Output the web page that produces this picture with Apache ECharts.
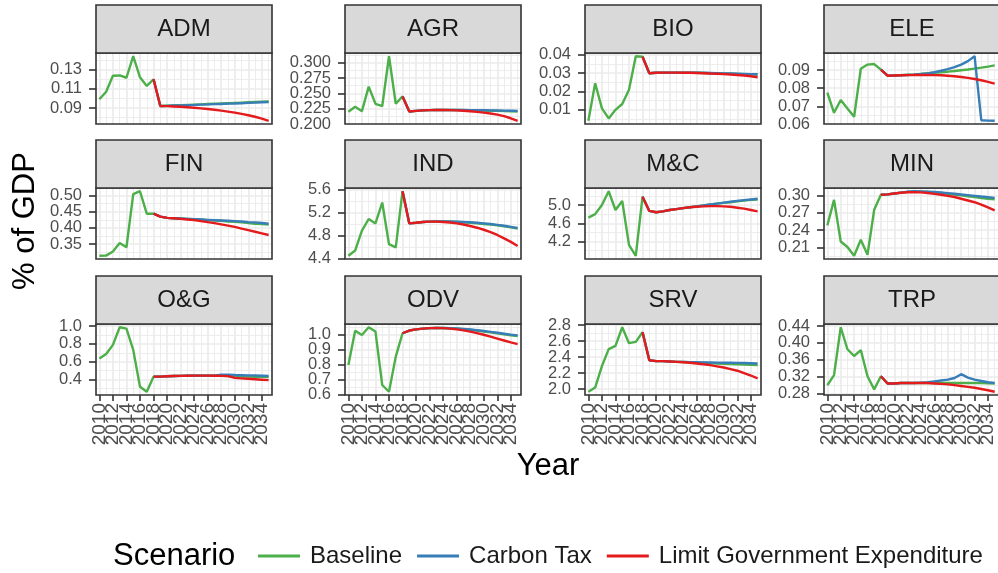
<!DOCTYPE html>
<html><head><meta charset="utf-8">
<script src="https://cdn.jsdelivr.net/npm/echarts@6/dist/echarts.min.js"></script>
<style>html,body{margin:0;padding:0;background:#fff}#c{width:998px;height:573px}</style>
</head><body><div id="c"></div>
<script>
// ---------- DATA ----------
const years = [2010,2011,2012,2013,2014,2015,2016,2017,2018,2019,2020,2021,2022,2023,2024,2025,2026,2027,2028,2029,2030,2031,2032,2033,2034,2035];
const policyYears = [2018,2019,2020,2021,2022,2023,2024,2025,2026,2027,2028,2029,2030,2031,2032,2033,2034,2035];
const sectors = ['ADM','AGR','BIO','ELE','FIN','IND','M&C','MIN','O&G','ODV','SRV','TRP'];
const scenarios = ['Baseline','Carbon Tax','Limit Government Expenditure'];

const baseline_ADM = [0.0991,0.1070,0.1237,0.1240,0.1216,0.1441,0.1220,0.1130,0.1200,0.0920,0.0923,0.0926,0.0929,0.0932,0.0935,0.0938,0.0941,0.0944,0.0947,0.0950,0.0953,0.0956,0.0959,0.0962,0.0965,0.0968];
const ctax_ADM     = [0.1200,0.0920,0.0922,0.0925,0.0927,0.0930,0.0932,0.0935,0.0937,0.0940,0.0942,0.0945,0.0947,0.0950,0.0953,0.0956,0.0959,0.0962];
const limit_ADM    = [0.1200,0.0921,0.0919,0.0916,0.0912,0.0907,0.0902,0.0896,0.0889,0.0881,0.0872,0.0862,0.0851,0.0838,0.0824,0.0808,0.0788,0.0766];

const baseline_AGR = [0.2201,0.2280,0.2210,0.2610,0.2330,0.2290,0.3105,0.2330,0.2450,0.2205,0.2215,0.2222,0.2226,0.2228,0.2229,0.2229,0.2228,0.2226,0.2224,0.2222,0.2220,0.2217,0.2214,0.2211,0.2208,0.2205];
const ctax_AGR     = [0.2450,0.2205,0.2215,0.2222,0.2226,0.2228,0.2229,0.2229,0.2229,0.2228,0.2227,0.2226,0.2225,0.2223,0.2221,0.2219,0.2217,0.2215];
const limit_AGR    = [0.2450,0.2205,0.2215,0.2222,0.2226,0.2228,0.2228,0.2226,0.2222,0.2216,0.2208,0.2198,0.2186,0.2171,0.2153,0.2128,0.2094,0.2053];

const baseline_BIO = [0.0039,0.0245,0.0107,0.0052,0.0099,0.0131,0.0209,0.0393,0.0390,0.0300,0.0302,0.0303,0.0303,0.0303,0.0303,0.0302,0.0302,0.0301,0.0300,0.0299,0.0298,0.0297,0.0296,0.0295,0.0294,0.0293];
const ctax_BIO     = [0.0390,0.0300,0.0302,0.0303,0.0303,0.0303,0.0303,0.0303,0.0302,0.0302,0.0301,0.0300,0.0299,0.0298,0.0297,0.0296,0.0295,0.0294];
const limit_BIO    = [0.0390,0.0300,0.0302,0.0303,0.0303,0.0303,0.0302,0.0302,0.0301,0.0300,0.0298,0.0297,0.0295,0.0293,0.0290,0.0287,0.0283,0.0278];

const baseline_ELE = [0.0776,0.0665,0.0735,0.0689,0.0643,0.0907,0.0930,0.0933,0.0902,0.0869,0.0870,0.0872,0.0874,0.0876,0.0879,0.0882,0.0885,0.0888,0.0891,0.0895,0.0899,0.0903,0.0908,0.0913,0.0919,0.0926];
const ctax_ELE     = [0.0902,0.0869,0.0870,0.0871,0.0873,0.0875,0.0878,0.0882,0.0888,0.0896,0.0905,0.0916,0.0930,0.0949,0.0976,0.0624,0.0622,0.0621];
const limit_ELE    = [0.0902,0.0869,0.0870,0.0871,0.0872,0.0873,0.0873,0.0873,0.0872,0.0871,0.0869,0.0866,0.0862,0.0857,0.0851,0.0844,0.0835,0.0825];

const baseline_FIN = [0.3135,0.3140,0.3270,0.3530,0.3400,0.5050,0.5138,0.4440,0.4440,0.4350,0.4310,0.4300,0.4290,0.4280,0.4270,0.4260,0.4240,0.4230,0.4220,0.4200,0.4190,0.4170,0.4150,0.4130,0.4120,0.4100];
const ctax_FIN     = [0.4440,0.4350,0.4310,0.4300,0.4290,0.4280,0.4270,0.4260,0.4250,0.4240,0.4230,0.4220,0.4210,0.4200,0.4180,0.4170,0.4150,0.4130];
const limit_FIN    = [0.4440,0.4350,0.4310,0.4300,0.4280,0.4260,0.4240,0.4210,0.4180,0.4150,0.4110,0.4070,0.4030,0.3980,0.3930,0.3880,0.3830,0.3780];

const baseline_IND = [4.450,4.540,4.886,5.086,5.010,5.370,4.650,4.594,5.566,5.010,5.020,5.035,5.040,5.042,5.042,5.040,5.035,5.030,5.020,5.010,5.000,4.990,4.975,4.960,4.940,4.920];
const ctax_IND     = [5.566,5.010,5.020,5.035,5.040,5.045,5.045,5.045,5.040,5.035,5.030,5.020,5.010,5.000,4.985,4.970,4.950,4.930];
const limit_IND    = [5.566,5.010,5.020,5.035,5.040,5.040,5.035,5.025,5.010,4.990,4.965,4.935,4.900,4.860,4.810,4.750,4.690,4.620];

const baseline_MC  = [4.724,4.800,5.000,5.300,4.890,5.087,4.127,3.890,5.180,4.870,4.840,4.860,4.890,4.910,4.930,4.950,4.970,4.990,5.010,5.030,5.045,5.060,5.080,5.095,5.110,5.120];
const ctax_MC      = [5.180,4.870,4.840,4.860,4.890,4.910,4.930,4.950,4.970,4.990,5.010,5.030,5.050,5.070,5.090,5.105,5.120,5.135];
const limit_MC     = [5.180,4.870,4.840,4.860,4.890,4.910,4.930,4.950,4.960,4.970,4.975,4.975,4.970,4.960,4.940,4.920,4.890,4.860];

const baseline_MIN = [0.2480,0.2920,0.2200,0.2106,0.1954,0.2230,0.1970,0.2750,0.3010,0.3015,0.3030,0.3045,0.3058,0.3065,0.3063,0.3057,0.3048,0.3037,0.3025,0.3012,0.2998,0.2983,0.2968,0.2953,0.2940,0.2930];
const ctax_MIN     = [0.3010,0.3015,0.3030,0.3045,0.3060,0.3070,0.3068,0.3063,0.3056,0.3047,0.3037,0.3026,0.3014,0.3002,0.2990,0.2978,0.2967,0.2956];
const limit_MIN    = [0.3010,0.3015,0.3030,0.3043,0.3052,0.3055,0.3050,0.3040,0.3025,0.3010,0.2990,0.2970,0.2940,0.2910,0.2880,0.2840,0.2790,0.2740];

const baseline_OG  = [0.637,0.686,0.789,0.986,0.970,0.733,0.322,0.265,0.434,0.434,0.438,0.441,0.443,0.444,0.445,0.445,0.445,0.444,0.443,0.441,0.439,0.437,0.435,0.433,0.431,0.430];
const ctax_OG      = [0.434,0.434,0.438,0.441,0.443,0.444,0.445,0.445,0.445,0.444,0.455,0.455,0.452,0.450,0.448,0.446,0.444,0.442];
const limit_OG     = [0.434,0.434,0.438,0.441,0.443,0.444,0.445,0.445,0.445,0.444,0.443,0.440,0.420,0.415,0.410,0.405,0.400,0.395];

const baseline_ODV = [0.797,1.024,0.996,1.047,1.018,0.664,0.619,0.852,1.007,1.025,1.033,1.038,1.041,1.042,1.042,1.040,1.038,1.034,1.030,1.025,1.019,1.013,1.007,1.000,0.994,0.988];
const ctax_ODV     = [1.007,1.025,1.033,1.038,1.041,1.042,1.042,1.041,1.039,1.036,1.032,1.027,1.022,1.016,1.010,1.004,0.998,0.993];
const limit_ODV    = [1.007,1.025,1.033,1.038,1.041,1.042,1.041,1.038,1.033,1.026,1.018,1.008,0.997,0.985,0.972,0.959,0.946,0.935];

const baseline_SRV = [1.967,2.020,2.287,2.500,2.540,2.773,2.574,2.590,2.710,2.360,2.350,2.350,2.345,2.340,2.338,2.335,2.332,2.330,2.325,2.320,2.317,2.313,2.310,2.307,2.303,2.300];
const ctax_SRV     = [2.710,2.360,2.350,2.350,2.345,2.340,2.340,2.337,2.335,2.333,2.332,2.331,2.330,2.330,2.328,2.326,2.323,2.320];
const limit_SRV    = [2.710,2.360,2.350,2.350,2.345,2.340,2.335,2.330,2.320,2.310,2.300,2.285,2.270,2.250,2.230,2.200,2.170,2.135];

const baseline_TRP = [0.2999,0.3240,0.4371,0.3850,0.3690,0.3830,0.3210,0.2900,0.3210,0.3040,0.3040,0.3050,0.3050,0.3050,0.3050,0.3050,0.3050,0.3050,0.3050,0.3050,0.3050,0.3050,0.3050,0.3050,0.3045,0.3040];
const ctax_TRP     = [0.3210,0.3040,0.3040,0.3050,0.3050,0.3050,0.3060,0.3070,0.3090,0.3110,0.3130,0.3170,0.3260,0.3180,0.3130,0.3100,0.3070,0.3050];
const limit_TRP    = [0.3210,0.3040,0.3040,0.3050,0.3050,0.3050,0.3050,0.3050,0.3040,0.3030,0.3020,0.3000,0.2980,0.2960,0.2940,0.2910,0.2880,0.2844];

// axis tick labels (major) and minor grid breaks
const ticks_ADM = [0.09,0.11,0.13],  minor_ADM = [0.08,0.10,0.12,0.14];
const ticks_AGR = [0.200,0.225,0.250,0.275,0.300], minor_AGR = [0.1875,0.2125,0.2375,0.2625,0.2875,0.3125];
const ticks_BIO = [0.01,0.02,0.03,0.04], minor_BIO = [0.005,0.015,0.025,0.035,0.045];
const ticks_ELE = [0.06,0.07,0.08,0.09], minor_ELE = [0.055,0.065,0.075,0.085,0.095];
const ticks_FIN = [0.35,0.40,0.45,0.50], minor_FIN = [0.325,0.375,0.425,0.475,0.525];
const ticks_IND = [4.4,4.8,5.2,5.6], minor_IND = [4.2,4.6,5.0,5.4,5.8];
const ticks_MC  = [4.2,4.6,5.0], minor_MC = [3.8,4.0,4.4,4.8,5.2];
const ticks_MIN = [0.21,0.24,0.27,0.30], minor_MIN = [0.195,0.225,0.255,0.285,0.315];
const ticks_OG  = [0.4,0.6,0.8,1.0], minor_OG = [0.3,0.5,0.7,0.9];
const ticks_ODV = [0.6,0.7,0.8,0.9,1.0], minor_ODV = [0.55,0.65,0.75,0.85,0.95,1.05];
const ticks_SRV = [2.0,2.2,2.4,2.6,2.8], minor_SRV = [1.9,2.1,2.3,2.5,2.7];
const ticks_TRP = [0.28,0.32,0.36,0.40,0.44], minor_TRP = [0.26,0.30,0.34,0.38,0.42];
const tickDecimals = [2,3,2,2,2,1,1,2,1,1,1,2];
const xTicks = [2010,2012,2014,2016,2018,2020,2022,2024,2026,2028,2030,2032,2034];
const xMinor = [2011,2013,2015,2017,2019,2021,2023,2025,2027,2029,2031,2033,2035];

// ---------- BUILD ----------
const baselines = [baseline_ADM,baseline_AGR,baseline_BIO,baseline_ELE,baseline_FIN,baseline_IND,baseline_MC,baseline_MIN,baseline_OG,baseline_ODV,baseline_SRV,baseline_TRP];
const ctaxes = [ctax_ADM,ctax_AGR,ctax_BIO,ctax_ELE,ctax_FIN,ctax_IND,ctax_MC,ctax_MIN,ctax_OG,ctax_ODV,ctax_SRV,ctax_TRP];
const limits = [limit_ADM,limit_AGR,limit_BIO,limit_ELE,limit_FIN,limit_IND,limit_MC,limit_MIN,limit_OG,limit_ODV,limit_SRV,limit_TRP];
const majors = [ticks_ADM,ticks_AGR,ticks_BIO,ticks_ELE,ticks_FIN,ticks_IND,ticks_MC,ticks_MIN,ticks_OG,ticks_ODV,ticks_SRV,ticks_TRP];
const minors = [minor_ADM,minor_AGR,minor_BIO,minor_ELE,minor_FIN,minor_IND,minor_MC,minor_MIN,minor_OG,minor_ODV,minor_SRV,minor_TRP];

const COLORS = ['#4DAF4A','#377EB8','#E41A1C'];
const FONT = 'Liberation Sans, Arial, Helvetica, sans-serif';
const colLeft = [96, 345, 585, 824];
const rowTop = [5, 140, 276];
const panelW = 176, stripH = 48, plotH = 71;

const grids = [], xAxes = [], yAxes = [], series = [], graphics = [];
sectors.forEach((name, i) => {
  const r = Math.floor(i / 4), c = i % 4;
  const left = colLeft[c], top = rowTop[r] + stripH;
  grids.push({left, top, width: panelW, height: plotH, show: true, backgroundColor: '#fff', borderWidth: 0, containLabel: false});
  const all = baselines[i].concat(ctaxes[i], limits[i]);
  const dmin = Math.min(...all), dmax = Math.max(...all), pad = (dmax - dmin) * 0.05;
  const ymin = dmin - pad, ymax = dmax + pad;
  const bottomRow = r === 2;
  // minor axes (grid only)
  xAxes.push({gridIndex: i, type: 'value', position: 'bottom', min: 2009.5, max: 2035.5, axisLine: {show: false},
    axisTick: {show: false, customValues: xMinor}, axisLabel: {show: false, customValues: xMinor},
    splitLine: {show: true, lineStyle: {color: '#EBEBEB', width: 0.9}}});
  yAxes.push({gridIndex: i, type: 'value', position: 'left', min: ymin, max: ymax, axisLine: {show: false},
    axisTick: {show: false, customValues: minors[i]}, axisLabel: {show: false, customValues: minors[i]},
    splitLine: {show: true, lineStyle: {color: '#EBEBEB', width: 0.9}}});
  // major axes (ticks + grid; labels placed below from the same scale)
  xAxes.push({gridIndex: i, type: 'value', position: 'bottom', min: 2009.5, max: 2035.5, axisLine: {show: false},
    axisTick: {show: bottomRow, length: 6, lineStyle: {color: '#333', width: 1.6}, customValues: xTicks},
    axisLabel: {show: false, customValues: xTicks},
    splitLine: {show: true, lineStyle: {color: '#EBEBEB', width: 1.7}}});
  yAxes.push({gridIndex: i, type: 'value', position: 'left', min: ymin, max: ymax, axisLine: {show: false},
    axisTick: {show: true, length: 7, lineStyle: {color: '#333', width: 1.6}, customValues: majors[i]},
    axisLabel: {show: false, customValues: majors[i]},
    splitLine: {show: true, lineStyle: {color: '#EBEBEB', width: 1.7}}});
  const xi = 2 * i + 1;
  const sets = [years.map((y, k) => [y, baselines[i][k]]), policyYears.map((y, k) => [y, ctaxes[i][k]]), policyYears.map((y, k) => [y, limits[i][k]])];
  sets.forEach((d, s) => {
    series.push({type: 'line', name: scenarios[s], xAxisIndex: xi, yAxisIndex: xi, data: d,
      showSymbol: false, symbol: 'none', clip: true, z: 3 + s,
      lineStyle: {color: COLORS[s], width: 2.4}, itemStyle: {color: COLORS[s]}, emphasis: {disabled: true}});
  });
  // panel border (on top of grid lines and data, as in ggplot)
  graphics.push({type: 'rect', shape: {x: left, y: top, width: panelW, height: plotH}, silent: true,
    style: {fill: 'none', stroke: '#333', lineWidth: 1.6}, z: 10});
  // strip
  graphics.push({type: 'rect', shape: {x: left, y: rowTop[r], width: panelW, height: stripH},
    style: {fill: '#D9D9D9', stroke: '#333', lineWidth: 1.6}, z: 10});
  graphics.push({type: 'text', x: left + panelW / 2, y: rowTop[r] + stripH / 2, z: 11,
    style: {text: name, fill: '#1A1A1A', font: '24px ' + FONT, align: 'center', verticalAlign: 'middle'}});
});

graphics.push({type: 'text', x: 548, y: 466, style: {text: 'Year', fill: '#000', font: '31px ' + FONT, align: 'center', verticalAlign: 'middle'}});
graphics.push({type: 'text', x: 25, y: 221, rotation: Math.PI / 2, style: {text: '% of GDP', fill: '#000', font: '31px ' + FONT, align: 'center', verticalAlign: 'middle'}});
graphics.push({type: 'text', x: 113, y: 556, style: {text: 'Scenario', fill: '#000', font: '31px ' + FONT, align: 'left', verticalAlign: 'middle'}});

const chart = echarts.init(document.getElementById('c'), null, {renderer: 'canvas'});
chart.setOption({
  animation: false,
  backgroundColor: '#fff',
  grid: grids, xAxis: xAxes, yAxis: yAxes, series,
  legend: {data: scenarios, left: 258, top: 544, padding: 0, icon: 'rect', itemWidth: 42, itemHeight: 3, itemGap: 15,
    textStyle: {fontSize: 24, color: '#1A1A1A', fontFamily: FONT, padding: [0, 0, 0, 5]}},
  graphic: {elements: graphics}
});

// tick labels, positioned through each panel's own axis scale
const labelEls = [];
sectors.forEach((name, i) => {
  const r = Math.floor(i / 4), c = i % 4;
  const ax = 2 * i + 1, dec = tickDecimals[i];
  majors[i].forEach(v => {
    const py = chart.convertToPixel({yAxisIndex: ax}, v);
    labelEls.push({type: 'text', x: colLeft[c] - 14, y: py, z: 12,
      style: {text: v.toFixed(dec), fill: '#4D4D4D', font: '16.5px ' + FONT, align: 'right', verticalAlign: 'middle'}});
  });
  if (r === 2) {
    const bottom = rowTop[r] + stripH + plotH;
    xTicks.forEach(v => {
      const px = chart.convertToPixel({xAxisIndex: ax}, v);
      labelEls.push({type: 'text', x: px, y: bottom + 8, rotation: Math.PI / 2, z: 12,
        style: {text: String(v), fill: '#4D4D4D', font: '19px ' + FONT, align: 'right', verticalAlign: 'middle'}});
    });
  }
});
chart.setOption({graphic: {elements: graphics.concat(labelEls)}});
</script></body></html>
